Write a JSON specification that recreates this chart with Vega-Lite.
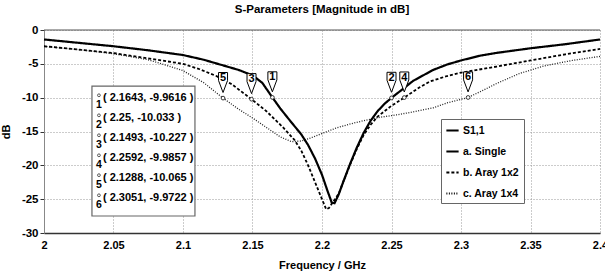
{
  "$schema": "https://vega.github.io/schema/vega-lite/v6.json",
  "width": 556,
  "height": 203,
  "autosize": {"type": "none"},
  "padding": {"left": 44, "top": 30, "right": 5, "bottom": 45},
  "background": "white",
  "config": {
    "view": {"stroke": null},
    "font": "Liberation Sans, Arial, sans-serif",
    "legend": {
      "orient": "none",
      "legendX": 397,
      "legendY": 89,
      "title": null,
      "strokeColor": "#666",
      "fillColor": "white",
      "padding": 4,
      "symbolType": "stroke",
      "symbolSize": 150,
      "symbolStrokeWidth": 2,
      "symbolStrokeColor": "black",
      "labelFont": "Liberation Sans, Arial, sans-serif",
      "labelFontSize": 10.5,
      "labelFontWeight": "bold",
      "labelColor": "black",
      "labelOffset": 3,
      "rowPadding": 8
    }
  },
  "title": {
    "text": "S-Parameters [Magnitude in dB]",
    "fontSize": 11.5,
    "fontWeight": "bold",
    "anchor": "middle",
    "offset": 9,
    "color": "black"
  },
  "datasets": {
    "curves": [
      {"series": "a. Single", "f": 2.0, "db": -1.4},
      {"series": "a. Single", "f": 2.025, "db": -1.9},
      {"series": "a. Single", "f": 2.05, "db": -2.4},
      {"series": "a. Single", "f": 2.075, "db": -3.0},
      {"series": "a. Single", "f": 2.1, "db": -3.7},
      {"series": "a. Single", "f": 2.115, "db": -4.4},
      {"series": "a. Single", "f": 2.125, "db": -5.0},
      {"series": "a. Single", "f": 2.14, "db": -5.9},
      {"series": "a. Single", "f": 2.15, "db": -6.7},
      {"series": "a. Single", "f": 2.157, "db": -7.8},
      {"series": "a. Single", "f": 2.1643, "db": -9.9616},
      {"series": "a. Single", "f": 2.17, "db": -11.6},
      {"series": "a. Single", "f": 2.177, "db": -13.4},
      {"series": "a. Single", "f": 2.185, "db": -15.4},
      {"series": "a. Single", "f": 2.19, "db": -17.0},
      {"series": "a. Single", "f": 2.195, "db": -19.0},
      {"series": "a. Single", "f": 2.2, "db": -21.4},
      {"series": "a. Single", "f": 2.204, "db": -23.8},
      {"series": "a. Single", "f": 2.207, "db": -25.5},
      {"series": "a. Single", "f": 2.209, "db": -25.6},
      {"series": "a. Single", "f": 2.212, "db": -24.3},
      {"series": "a. Single", "f": 2.215, "db": -22.6},
      {"series": "a. Single", "f": 2.22, "db": -19.9},
      {"series": "a. Single", "f": 2.225, "db": -17.4},
      {"series": "a. Single", "f": 2.23, "db": -15.2},
      {"series": "a. Single", "f": 2.235, "db": -13.4},
      {"series": "a. Single", "f": 2.24, "db": -12.0},
      {"series": "a. Single", "f": 2.245, "db": -10.9},
      {"series": "a. Single", "f": 2.25, "db": -10.033},
      {"series": "a. Single", "f": 2.2657, "db": -7.5},
      {"series": "a. Single", "f": 2.28, "db": -5.9},
      {"series": "a. Single", "f": 2.29, "db": -5.1},
      {"series": "a. Single", "f": 2.3, "db": -4.5},
      {"series": "a. Single", "f": 2.3137, "db": -3.8},
      {"series": "a. Single", "f": 2.325, "db": -3.4},
      {"series": "a. Single", "f": 2.35, "db": -2.7},
      {"series": "a. Single", "f": 2.375, "db": -2.1},
      {"series": "a. Single", "f": 2.4, "db": -1.4},
      {"series": "b. Aray 1x2", "f": 2.0, "db": -2.4},
      {"series": "b. Aray 1x2", "f": 2.025, "db": -2.9},
      {"series": "b. Aray 1x2", "f": 2.05, "db": -3.4},
      {"series": "b. Aray 1x2", "f": 2.075, "db": -4.2},
      {"series": "b. Aray 1x2", "f": 2.1, "db": -5.0},
      {"series": "b. Aray 1x2", "f": 2.112, "db": -5.8},
      {"series": "b. Aray 1x2", "f": 2.124, "db": -6.8},
      {"series": "b. Aray 1x2", "f": 2.135, "db": -8.0},
      {"series": "b. Aray 1x2", "f": 2.1493, "db": -10.227},
      {"series": "b. Aray 1x2", "f": 2.16, "db": -12.0},
      {"series": "b. Aray 1x2", "f": 2.172, "db": -14.4},
      {"series": "b. Aray 1x2", "f": 2.18, "db": -16.2},
      {"series": "b. Aray 1x2", "f": 2.185, "db": -17.8},
      {"series": "b. Aray 1x2", "f": 2.19, "db": -20.0},
      {"series": "b. Aray 1x2", "f": 2.195, "db": -22.5},
      {"series": "b. Aray 1x2", "f": 2.2, "db": -25.0},
      {"series": "b. Aray 1x2", "f": 2.203, "db": -26.5},
      {"series": "b. Aray 1x2", "f": 2.205, "db": -26.3},
      {"series": "b. Aray 1x2", "f": 2.208, "db": -25.4},
      {"series": "b. Aray 1x2", "f": 2.212, "db": -24.2},
      {"series": "b. Aray 1x2", "f": 2.215, "db": -22.6},
      {"series": "b. Aray 1x2", "f": 2.22, "db": -20.0},
      {"series": "b. Aray 1x2", "f": 2.225, "db": -17.6},
      {"series": "b. Aray 1x2", "f": 2.23, "db": -15.5},
      {"series": "b. Aray 1x2", "f": 2.235, "db": -14.0},
      {"series": "b. Aray 1x2", "f": 2.24, "db": -12.8},
      {"series": "b. Aray 1x2", "f": 2.25, "db": -11.2},
      {"series": "b. Aray 1x2", "f": 2.2592, "db": -9.9857},
      {"series": "b. Aray 1x2", "f": 2.27, "db": -8.5},
      {"series": "b. Aray 1x2", "f": 2.2777, "db": -7.6},
      {"series": "b. Aray 1x2", "f": 2.29, "db": -6.8},
      {"series": "b. Aray 1x2", "f": 2.3, "db": -6.3},
      {"series": "b. Aray 1x2", "f": 2.3257, "db": -5.4},
      {"series": "b. Aray 1x2", "f": 2.35, "db": -4.5},
      {"series": "b. Aray 1x2", "f": 2.375, "db": -3.6},
      {"series": "b. Aray 1x2", "f": 2.4, "db": -2.8},
      {"series": "c. Aray 1x4", "f": 2.0, "db": -2.4},
      {"series": "c. Aray 1x4", "f": 2.025, "db": -2.9},
      {"series": "c. Aray 1x4", "f": 2.05, "db": -3.5},
      {"series": "c. Aray 1x4", "f": 2.075, "db": -4.4},
      {"series": "c. Aray 1x4", "f": 2.1, "db": -6.0},
      {"series": "c. Aray 1x4", "f": 2.115, "db": -7.8},
      {"series": "c. Aray 1x4", "f": 2.1288, "db": -10.065},
      {"series": "c. Aray 1x4", "f": 2.14, "db": -11.7},
      {"series": "c. Aray 1x4", "f": 2.15, "db": -13.0},
      {"series": "c. Aray 1x4", "f": 2.16, "db": -14.4},
      {"series": "c. Aray 1x4", "f": 2.17, "db": -15.8},
      {"series": "c. Aray 1x4", "f": 2.178, "db": -16.5},
      {"series": "c. Aray 1x4", "f": 2.185, "db": -16.4},
      {"series": "c. Aray 1x4", "f": 2.19, "db": -16.1},
      {"series": "c. Aray 1x4", "f": 2.2, "db": -15.3},
      {"series": "c. Aray 1x4", "f": 2.21, "db": -14.5},
      {"series": "c. Aray 1x4", "f": 2.22, "db": -13.9},
      {"series": "c. Aray 1x4", "f": 2.23, "db": -13.4},
      {"series": "c. Aray 1x4", "f": 2.2417, "db": -12.9},
      {"series": "c. Aray 1x4", "f": 2.255, "db": -12.5},
      {"series": "c. Aray 1x4", "f": 2.2657, "db": -12.1},
      {"series": "c. Aray 1x4", "f": 2.28, "db": -11.5},
      {"series": "c. Aray 1x4", "f": 2.2897, "db": -10.8},
      {"series": "c. Aray 1x4", "f": 2.3051, "db": -9.9722},
      {"series": "c. Aray 1x4", "f": 2.315, "db": -9.0},
      {"series": "c. Aray 1x4", "f": 2.3257, "db": -7.9},
      {"series": "c. Aray 1x4", "f": 2.3424, "db": -6.4},
      {"series": "c. Aray 1x4", "f": 2.36, "db": -5.3},
      {"series": "c. Aray 1x4", "f": 2.38, "db": -4.5},
      {"series": "c. Aray 1x4", "f": 2.4, "db": -3.9}
    ],
    "markers": [
      {"id": "1", "f": 2.1643, "db": -9.9616},
      {"id": "2", "f": 2.25, "db": -10.033},
      {"id": "3", "f": 2.1493, "db": -10.227},
      {"id": "4", "f": 2.2592, "db": -9.9857},
      {"id": "5", "f": 2.1288, "db": -10.065},
      {"id": "6", "f": 2.3051, "db": -9.9722}
    ],
    "notebox": [
      {"f": 2.0345, "f2": 2.1086, "db": -8.28, "db2": -27.49}
    ],
    "notes": [
      {"id": "1", "label": "( 2.1643, -9.9616 )", "f": 2.0424, "db": -10.09},
      {"id": "2", "label": "( 2.25, -10.033 )", "f": 2.0424, "db": -13.05},
      {"id": "3", "label": "( 2.1493, -10.227 )", "f": 2.0424, "db": -16.0},
      {"id": "4", "label": "( 2.2592, -9.9857 )", "f": 2.0424, "db": -18.96},
      {"id": "5", "label": "( 2.1288, -10.065 )", "f": 2.0424, "db": -21.9},
      {"id": "6", "label": "( 2.3051, -9.9722 )", "f": 2.0424, "db": -24.87}
    ],
    "topline": [
      {"f": 2.0, "f2": 2.4, "db": 0}
    ]
  },
  "encoding": {
    "x": {
      "field": "f", "type": "quantitative",
      "scale": {"domain": [2, 2.4], "nice": false, "zero": false},
      "axis": {
        "title": "Frequency / GHz",
        "values": [2, 2.05, 2.1, 2.15, 2.2, 2.25, 2.3, 2.35, 2.4],
        "labelExpr": "'' + datum.value",
        "labelOverlap": false,
        "labelFontSize": 11,
        "labelFontWeight": "bold",
        "labelColor": "black",
        "labelPadding": 6,
        "labelFlush": false,
        "ticks": false,
        "domainColor": "#333",
        "domainWidth": 1.5,
        "gridColor": "#999",
        "gridDash": [1, 2],
        "titleFontSize": 11,
        "titleFontWeight": "bold",
        "titleColor": "black",
        "titlePadding": 9
      }
    },
    "y": {
      "field": "db", "type": "quantitative",
      "scale": {"domain": [-30, 0], "nice": false, "zero": false},
      "axis": {
        "title": "dB",
        "values": [-30, -25, -20, -15, -10, -5, 0],
        "labelExpr": "'' + datum.value",
        "labelOverlap": false,
        "labelFontSize": 11.5,
        "labelFontWeight": "bold",
        "labelColor": "black",
        "labelPadding": 2,
        "tickSize": 4,
        "tickColor": "#333",
        "domainColor": "#888",
        "gridColor": "#999",
        "gridDash": [1, 2],
        "titleFontSize": 11,
        "titleFontWeight": "bold",
        "titleColor": "black",
        "titlePadding": 10
      }
    }
  },
  "layer": [
    {
      "data": {"name": "topline"},
      "mark": {"type": "rule", "color": "#555", "strokeWidth": 1},
      "encoding": {
        "x2": {"field": "f2"}
      }
    },
    {
      "data": {"name": "curves"},
      "transform": [{"filter": "datum.series === 'c. Aray 1x4'"}],
      "mark": {"type": "line", "color": "#222", "strokeWidth": 1.3},
      "encoding": {
        "strokeDash": {
          "field": "series", "type": "nominal",
          "scale": {
            "domain": ["S1,1", "a. Single", "b. Aray 1x2", "c. Aray 1x4"],
            "range": [[1, 0], [1, 0], [3, 2], [1, 1.5]]
          }
        }
      }
    },
    {
      "data": {"name": "curves"},
      "transform": [{"filter": "datum.series === 'b. Aray 1x2'"}],
      "mark": {"type": "line", "color": "black", "strokeWidth": 1.8},
      "encoding": {
        "strokeDash": {"field": "series", "type": "nominal"}
      }
    },
    {
      "data": {"name": "curves"},
      "transform": [{"filter": "datum.series === 'a. Single'"}],
      "mark": {"type": "line", "color": "black", "strokeWidth": 2.2},
      "encoding": {
        "strokeDash": {"field": "series", "type": "nominal"}
      }
    },
    {
      "data": {"name": "markers"},
      "mark": {"type": "point", "shape": "circle", "size": 14, "filled": true, "fill": "white", "stroke": "#333", "strokeWidth": 1, "opacity": 1}
    },
    {
      "data": {"name": "markers"},
      "mark": {"type": "point", "shape": "M-0.45,-1L0.45,-1L0.45,-0.2L0,1L-0.45,-0.2Z", "size": 400, "filled": true, "fill": "white", "stroke": "black", "strokeWidth": 1, "opacity": 1, "yOffset": -15.6}
    },
    {
      "data": {"name": "markers"},
      "mark": {"type": "text", "fontSize": 11, "fontWeight": "bold", "color": "black", "baseline": "middle", "align": "center", "dy": -20},
      "encoding": {
        "text": {"field": "id"}
      }
    },
    {
      "data": {"name": "notebox"},
      "mark": {"type": "rect", "fill": "white", "stroke": "#666", "strokeWidth": 1.2},
      "encoding": {
        "x2": {"field": "f2"},
        "y2": {"field": "db2"}
      }
    },
    {
      "data": {"name": "notes"},
      "mark": {"type": "text", "fontSize": 11, "fontWeight": "bold", "color": "black", "baseline": "middle", "align": "left"},
      "encoding": {
        "text": {"field": "label"}
      }
    },
    {
      "data": {"name": "notes"},
      "mark": {"type": "text", "fontSize": 10.5, "fontWeight": "bold", "color": "black", "baseline": "middle", "align": "center", "dx": -4, "dy": 7},
      "encoding": {
        "text": {"field": "id"}
      }
    },
    {
      "data": {"name": "notes"},
      "mark": {"type": "point", "shape": "circle", "size": 8, "filled": false, "stroke": "#333", "strokeWidth": 0.8, "opacity": 1, "xOffset": -4, "yOffset": -3}
    }
  ]
}
